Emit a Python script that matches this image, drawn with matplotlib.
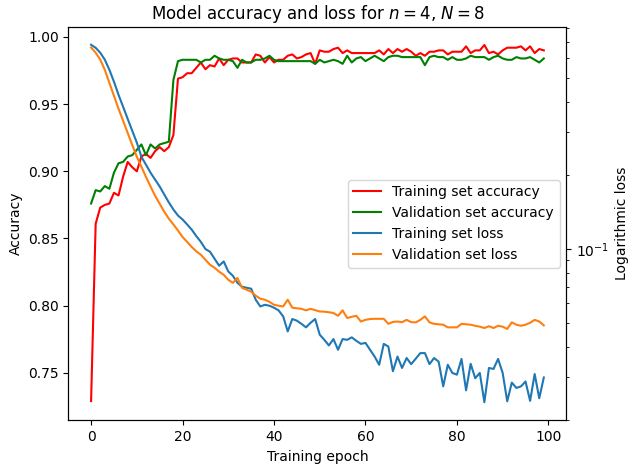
import matplotlib
matplotlib.use("Agg")
import matplotlib.pyplot as plt
import numpy as np

# -----------------------------
# Data
# -----------------------------
epochs = np.arange(100)

train_acc = [
    0.729, 0.861, 0.873, 0.875, 0.876, 0.884, 0.882, 0.896, 0.907, 0.903,
    0.900, 0.911, 0.913, 0.910, 0.915, 0.918, 0.915, 0.918, 0.927, 0.969,
    0.970, 0.973, 0.973, 0.977, 0.981, 0.976, 0.979, 0.978, 0.984, 0.979,
    0.983, 0.984, 0.984, 0.981, 0.981, 0.981, 0.987, 0.986, 0.981, 0.985,
    0.981, 0.983, 0.983, 0.986, 0.987, 0.984, 0.985, 0.987, 0.988, 0.980,
    0.990, 0.989, 0.989, 0.991, 0.992, 0.988, 0.990, 0.988, 0.988, 0.988,
    0.988, 0.988, 0.988, 0.990, 0.987, 0.991, 0.988, 0.991, 0.989, 0.991,
    0.989, 0.986, 0.988, 0.986, 0.989, 0.989, 0.990, 0.990, 0.987, 0.989,
    0.989, 0.989, 0.993, 0.988, 0.990, 0.990, 0.994, 0.988, 0.989, 0.987,
    0.990, 0.992, 0.992, 0.992, 0.993, 0.990, 0.993, 0.988, 0.991, 0.990,
]

val_acc = [
    0.876, 0.886, 0.885, 0.889, 0.887, 0.899, 0.906, 0.907, 0.911, 0.912,
    0.916, 0.920, 0.912, 0.920, 0.917, 0.920, 0.921, 0.922, 0.968, 0.982,
    0.983, 0.983, 0.983, 0.983, 0.981, 0.983, 0.983, 0.986, 0.984, 0.983,
    0.983, 0.982, 0.977, 0.983, 0.981, 0.981, 0.983, 0.983, 0.984, 0.986,
    0.983, 0.982, 0.982, 0.982, 0.982, 0.982, 0.982, 0.982, 0.982, 0.980,
    0.983, 0.981, 0.982, 0.983, 0.982, 0.980, 0.986, 0.981, 0.984, 0.985,
    0.982, 0.984, 0.986, 0.984, 0.982, 0.985, 0.986, 0.986, 0.985, 0.985,
    0.985, 0.985, 0.985, 0.979, 0.985, 0.986, 0.985, 0.985, 0.983, 0.985,
    0.983, 0.983, 0.984, 0.986, 0.985, 0.985, 0.985, 0.983, 0.985, 0.986,
    0.984, 0.983, 0.983, 0.985, 0.984, 0.984, 0.985, 0.983, 0.981, 0.984,
]

train_loss = [
    0.682, 0.663, 0.633, 0.593, 0.539, 0.482, 0.426, 0.381, 0.340, 0.304,
    0.272, 0.238, 0.221, 0.205, 0.192, 0.180, 0.167, 0.155, 0.145, 0.137,
    0.132, 0.126, 0.120, 0.113, 0.107, 0.100, 0.0975, 0.0913, 0.0855, 0.0890,
    0.0810, 0.0778, 0.0728, 0.0702, 0.0695, 0.0689, 0.0621, 0.0583, 0.0592, 0.0587,
    0.0576, 0.0562, 0.0531, 0.0461, 0.0518, 0.0510, 0.0495, 0.0479, 0.0500, 0.0518,
    0.0447, 0.0426, 0.0404, 0.0429, 0.0388, 0.0429, 0.0426, 0.0436, 0.0422, 0.0410,
    0.0414, 0.0388, 0.0364, 0.0337, 0.0410, 0.0400, 0.0317, 0.0364, 0.0327, 0.0359,
    0.0339, 0.0357, 0.0376, 0.0376, 0.0339, 0.0359, 0.0347, 0.0275, 0.0337, 0.0312,
    0.0307, 0.0356, 0.0265, 0.0340, 0.0297, 0.0312, 0.0237, 0.0327, 0.0324, 0.0356,
    0.0312, 0.0239, 0.0285, 0.0271, 0.0275, 0.0288, 0.0240, 0.0309, 0.0246, 0.0299,
]

val_loss = [
    0.665, 0.633, 0.593, 0.539, 0.477, 0.422, 0.374, 0.334, 0.298, 0.266,
    0.238, 0.217, 0.197, 0.180, 0.165, 0.153, 0.142, 0.133, 0.126, 0.119,
    0.112, 0.107, 0.102, 0.0979, 0.0948, 0.0904, 0.0863, 0.0839, 0.0808, 0.0785,
    0.0749, 0.0728, 0.0762, 0.0695, 0.0682, 0.0670, 0.0645, 0.0627, 0.0621, 0.0609,
    0.0592, 0.0587, 0.0583, 0.0621, 0.0576, 0.0573, 0.0570, 0.0562, 0.0570, 0.0563,
    0.0556, 0.0555, 0.0552, 0.0548, 0.0534, 0.0562, 0.0523, 0.0529, 0.0534, 0.0506,
    0.0514, 0.0518, 0.0519, 0.0519, 0.0519, 0.0495, 0.0504, 0.0506, 0.0503, 0.0514,
    0.0503, 0.0502, 0.0514, 0.0531, 0.0502, 0.0495, 0.0493, 0.0491, 0.0479, 0.0479,
    0.0479, 0.0495, 0.0493, 0.0491, 0.0486, 0.0482, 0.0476, 0.0484, 0.0476, 0.0486,
    0.0482, 0.0472, 0.0502, 0.0491, 0.0486, 0.0491, 0.0500, 0.0514, 0.0506, 0.0488,
]

# -----------------------------
# Figure
# -----------------------------
fig, ax1 = plt.subplots(figsize=(6.28, 4.68), dpi=100)
fig.subplots_adjust(left=0.109, right=0.902, bottom=0.102, top=0.942)

l1, = ax1.plot(epochs, train_acc, color="r", label="Training set accuracy")
l2, = ax1.plot(epochs, val_acc, color="g", label="Validation set accuracy")
ax1.set_xlabel("Training epoch")
ax1.set_ylabel("Accuracy")
ax1.set_ylim(0.7147, 1.0073)
ax1.set_xlim(-4.95, 103.95)

ax2 = ax1.twinx()
l3, = ax2.plot(epochs, train_loss, color="C0", label="Training set loss")
l4, = ax2.plot(epochs, val_loss, color="C1", label="Validation set loss")
ax2.set_yscale("log")
ax2.set_ylim(0.02, 0.805)
ax2.set_ylabel("Logarithmic loss")

lines = [l1, l2, l3, l4]
ax2.legend(lines, [l.get_label() for l in lines], loc="center right")

ax1.set_title("Model accuracy and loss for $n = 4$, $N = 8$")

plt.savefig("out.png", dpi=100)
